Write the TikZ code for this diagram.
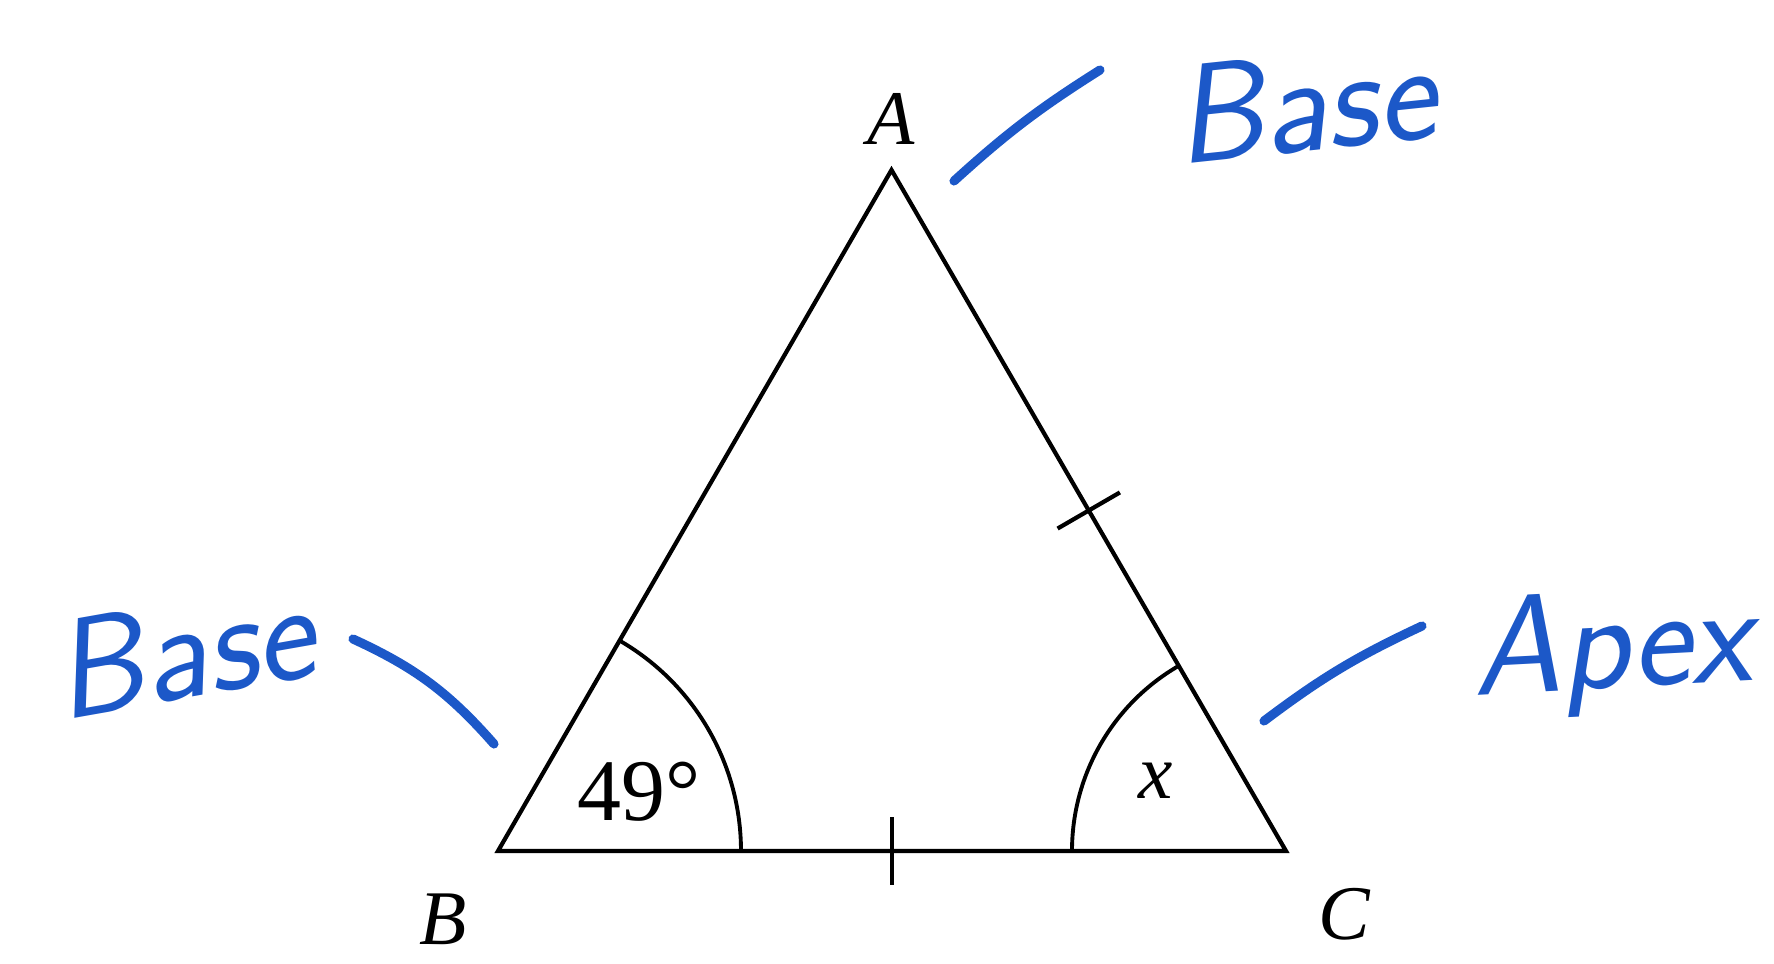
\documentclass[tikz,border=0pt]{standalone}
\usepackage{fontspec}
\setmainfont{Liberation Serif}
\usetikzlibrary{calc}
\definecolor{penblue}{RGB}{28,88,200}

\begin{document}
\begin{tikzpicture}[
    lbl/.style={font=\itshape\fontsize{22}{22}\selectfont},
    hand/.style={text=penblue,font=\sffamily\itshape\fontsize{40}{40}\selectfont},
    stroke/.style={penblue,line width=2.6pt,line cap=round},
    tick/.style={line width=1.2pt}]
    \useasboundingbox (0,0) rectangle (17.74,9.63);

    \coordinate (A) at (8.915,7.93);
    \coordinate (B) at (4.98,1.12);
    \coordinate (C) at (12.86,1.12);

    \draw[line width=1.2pt,line join=miter] (A) -- (B) -- (C) -- cycle;
    \draw[line width=1.1pt] (B) ++(0:2.43) arc (0:60:2.43);
    \draw[line width=1.1pt] (C) ++(180:2.14) arc (180:120:2.14);

    % equal-side ticks
    \coordinate (mAC) at ($(A)!.5!(C)$);
    \coordinate (mBC) at ($(B)!.5!(C)$);
    \draw[tick] ($(mAC)!.36cm!90:(C)$) -- ($(mAC)!.36cm!-90:(C)$);
    \draw[tick] ($(mBC)+(0,.34)$) -- ($(mBC)+(0,-.34)$);

    \node[lbl] (labA) at (8.91,8.44) {A};
    \node[lbl] (labB) at (4.43,0.44) {B};
    \node[lbl] (labC) at (13.44,0.49) {C};
    \node[font=\fontsize{25}{25}\selectfont] (angB) at (6.39,1.71) {49°};
    \node[lbl] (angC) at (11.56,1.82) {x};

    % handwritten notes
    \node[hand,rotate=6] (baseA) at (13.04,8.60) {Base};
    \node[hand,rotate=10] (baseB) at (1.83,3.13) {Base};
    \node[hand,rotate=3] (apexC) at (16.12,3.10) {Apex};
    \coordinate (sA1) at (9.54,7.82);
    \coordinate (sA2) at (11.00,8.93);
    \coordinate (sB1) at (3.53,3.24);
    \coordinate (sB2) at (4.94,2.19);
    \coordinate (sC1) at (12.64,2.42);
    \coordinate (sC2) at (14.22,3.37);
    \draw[stroke] (sA1) to[bend left=5] (sA2);
    \draw[stroke] (sB1) to[bend left=12] (sB2);
    \draw[stroke] (sC1) to[bend left=6] (sC2);
\end{tikzpicture}
\end{document}
